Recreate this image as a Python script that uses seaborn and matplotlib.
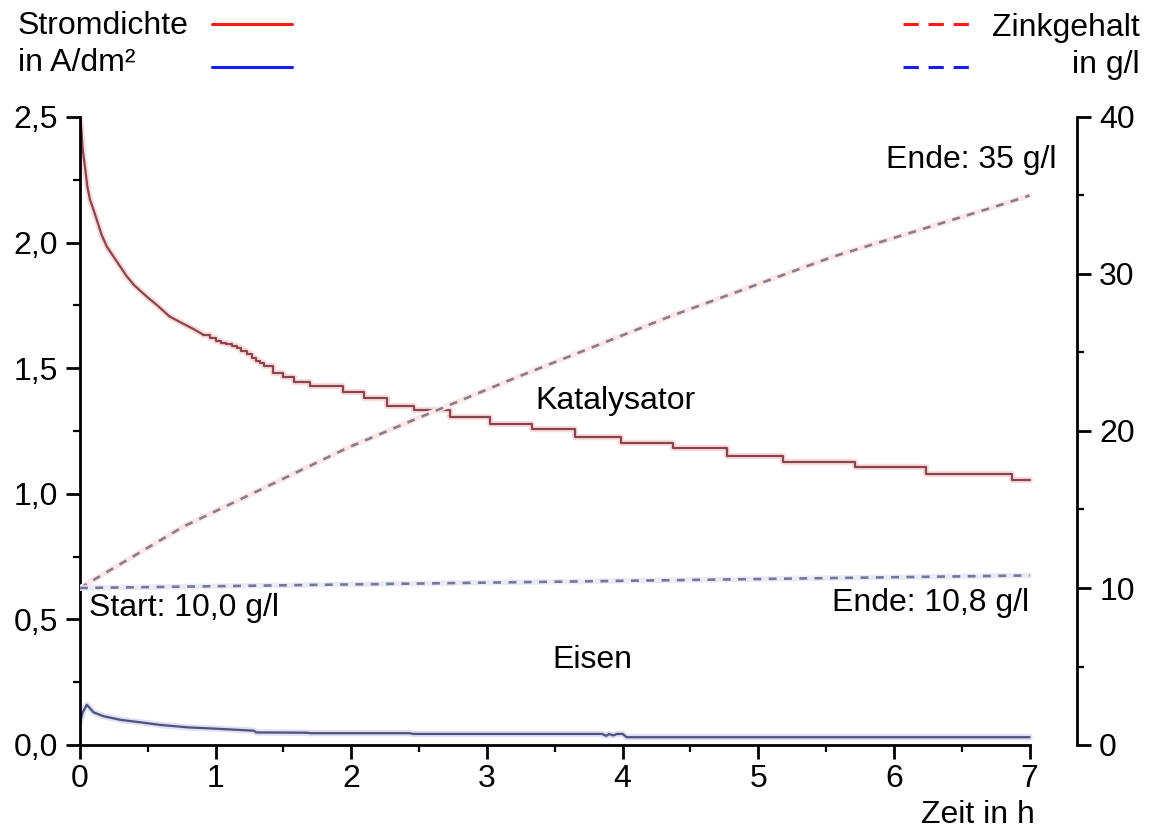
import matplotlib
matplotlib.use("Agg")
import matplotlib.pyplot as plt
from matplotlib.lines import Line2D
from matplotlib.ticker import MultipleLocator, FixedLocator, FixedFormatter
import seaborn as sns
import pandas as pd

# Stromdichte Katalysator (A/dm2): Anfang glatt, danach stufenfoermig
t_kat_a = [0, 0.01, 0.02, 0.037, 0.055, 0.074, 0.1, 0.13, 0.16, 0.197, 0.24, 0.29,
           0.344, 0.4, 0.49, 0.57, 0.66, 0.75, 0.84, 0.91]
i_kat_a = [2.5, 2.45, 2.37, 2.3, 2.22, 2.17, 2.13, 2.08, 2.03, 1.985, 1.95, 1.91,
           1.866, 1.83, 1.786, 1.75, 1.706, 1.68, 1.655, 1.633]
t_kat_b = [0.91, 0.96, 1.0, 1.04, 1.08, 1.12, 1.155, 1.19, 1.23, 1.27, 1.3, 1.33, 1.36,
           1.42, 1.5, 1.58, 1.695, 1.94, 2.09, 2.26, 2.46, 2.73, 3.02,
           3.33, 3.65, 3.99, 4.37, 4.77, 5.18, 5.71, 6.24, 6.87, 7.0]
i_kat_b = [1.633, 1.62, 1.61, 1.6, 1.595, 1.588, 1.58, 1.568, 1.555, 1.54, 1.53, 1.52, 1.51,
           1.48, 1.465, 1.445, 1.428, 1.407, 1.381, 1.35, 1.332, 1.305, 1.279,
           1.258, 1.228, 1.202, 1.182, 1.151, 1.126, 1.105, 1.078, 1.053, 1.053]

# Stromdichte Eisen (A/dm2)
t_fe = [0, 0.02, 0.05, 0.1, 0.17, 0.3, 0.45, 0.59, 0.8, 1.0, 1.28, 1.3, 1.67, 1.7,
        2.43, 2.46, 3.85, 3.88, 3.9, 3.93, 3.96, 4.0, 4.03, 7.0]
i_fe = [0.09, 0.13, 0.16, 0.13, 0.115, 0.1, 0.09, 0.08, 0.07, 0.065, 0.057, 0.05, 0.049, 0.047,
        0.047, 0.044, 0.044, 0.036, 0.044, 0.038, 0.044, 0.044, 0.031, 0.031]

# Zinkgehalt (g/l)
t_zn_kat = [0, 0.76, 1.375, 1.965, 2.43, 3.17, 4.35, 5.55, 6.75, 7.0]
zn_kat = [10.0, 13.9, 16.45, 18.9, 20.6, 23.25, 27.3, 31.1, 34.3, 35.0]
t_zn_fe = [0, 7.0]
zn_fe = [10.0, 10.8]

x_ticks = [0, 1, 2, 3, 4, 5, 6, 7]
y_ticks = [0, 0.5, 1.0, 1.5, 2.0, 2.5]
y_labels = ['0,0', '0,5', '1,0', '1,5', '2,0', '2,5']
y2_ticks = [0, 10, 20, 30, 40]

sns.set_style('white')
plt.rcParams['font.family'] = ['Liberation Sans', 'DejaVu Sans']
plt.rcParams['text.color'] = 'black'
plt.rcParams['xtick.color'] = 'black'
plt.rcParams['ytick.color'] = 'black'
plt.rcParams['xtick.labelcolor'] = 'black'
plt.rcParams['ytick.labelcolor'] = 'black'
fs = 23

fig = plt.figure(figsize=(11.62, 8.31), dpi=100)
ax = fig.add_axes([80 / 1162, 86 / 831, 997 / 1162, 628 / 831])
ax2 = ax.twinx()

df_kat_a = pd.DataFrame({'t': t_kat_a, 'i': i_kat_a})
df_kat_b = pd.DataFrame({'t': t_kat_b, 'i': i_kat_b})
df_fe = pd.DataFrame({'t': t_fe, 'i': i_fe})
df_znk = pd.DataFrame({'t': t_zn_kat, 'zn': zn_kat})
df_znf = pd.DataFrame({'t': t_zn_fe, 'zn': zn_fe})

red_halo, red_core = '#f8dcdc', '#8a4650'
blue_halo, blue_core = '#dedef5', '#50507a'

# Schein + Linie
for d, ds in [(df_kat_a, 'default'), (df_kat_b, 'steps-post')]:
    sns.lineplot(data=d, x='t', y='i', ax=ax, color=red_halo, lw=4.5, drawstyle=ds, sort=False)
for d, ds in [(df_kat_a, 'default'), (df_kat_b, 'steps-post')]:
    sns.lineplot(data=d, x='t', y='i', ax=ax, color=red_core, lw=1.6, drawstyle=ds, sort=False)
sns.lineplot(data=df_fe, x='t', y='i', ax=ax, color=blue_halo, lw=4.5, sort=False)
sns.lineplot(data=df_fe, x='t', y='i', ax=ax, color=blue_core, lw=1.6, sort=False)

sns.lineplot(data=df_znk, x='t', y='zn', ax=ax2, color='#fbe8ea', lw=4, sort=False)
sns.lineplot(data=df_znk, x='t', y='zn', ax=ax2, color='#8c7c86', lw=1.9, linestyle=(0, (3, 2.8)), sort=False)
sns.lineplot(data=df_znf, x='t', y='zn', ax=ax2, color='#ebebf7', lw=4, sort=False)
sns.lineplot(data=df_znf, x='t', y='zn', ax=ax2, color='#76769a', lw=1.9, linestyle=(0, (3, 2.8)), sort=False)

ax.set_xlim(0, 7.35)
ax.set_ylim(0, 2.5)
ax2.set_ylim(0, 40)
ax.set_xlabel('')
ax.set_ylabel('')
ax2.set_ylabel('')

for s in ['top', 'right']:
    ax.spines[s].set_visible(False)
for s in ['top', 'left', 'bottom']:
    ax2.spines[s].set_visible(False)
ax.spines['bottom'].set_bounds(0, 7)
for sp in [ax.spines['left'], ax.spines['bottom'], ax2.spines['right']]:
    sp.set_linewidth(2)
    sp.set_color('black')

ax.xaxis.set_major_locator(FixedLocator(x_ticks))
ax.xaxis.set_minor_locator(FixedLocator([0.5, 1.5, 2.5, 3.5, 4.5, 5.5, 6.5]))
ax.yaxis.set_major_locator(FixedLocator(y_ticks))
ax.yaxis.set_major_formatter(FixedFormatter(y_labels))
ax.yaxis.set_minor_locator(MultipleLocator(0.25))
ax2.yaxis.set_major_locator(FixedLocator(y2_ticks))
ax2.yaxis.set_minor_locator(MultipleLocator(5))

for a in [ax, ax2]:
    a.tick_params(which='major', direction='out', length=10, width=2, labelsize=fs, pad=6,
                  color='black', labelcolor='black')
    a.tick_params(which='minor', direction='out', length=5, width=1.6, color='black')
ax.tick_params(axis='x', which='major', pad=4)
ax.tick_params(axis='y', which='both', left=True)
ax.tick_params(axis='x', which='both', bottom=True)
ax2.tick_params(axis='y', which='both', right=True)

box = dict(facecolor='white', edgecolor='none', pad=1)
ax.text(3.36, 1.37, 'Katalysator', fontsize=fs, ha='left', va='center', bbox=box)
ax.text(3.48, 0.34, 'Eisen', fontsize=fs, ha='left', va='center', bbox=box)
ax.text(0.07, 0.546, 'Start: 10,0 g/l', fontsize=fs, ha='left', va='center', bbox=box)
ax.text(7.0, 0.566, 'Ende: 10,8 g/l', fontsize=fs, ha='right', va='center', bbox=box)
ax.text(7.2, 2.33, 'Ende: 35 g/l', fontsize=fs, ha='right', va='center', bbox=box)

fig.text(1035 / 1162, 1 - 815 / 831, 'Zeit in h', fontsize=fs, ha='right', va='center')

# Legende
fig.text(18 / 1162, 1 - 26 / 831, 'Stromdichte', fontsize=fs, ha='left', va='center')
fig.text(18 / 1162, 1 - 63 / 831, 'in A/dm²', fontsize=fs, ha='left', va='center')
fig.text(1140 / 1162, 1 - 28 / 831, 'Zinkgehalt', fontsize=fs, ha='right', va='center')
fig.text(1140 / 1162, 1 - 65 / 831, 'in g/l', fontsize=fs, ha='right', va='center')
fig.add_artist(Line2D([212 / 1162, 292 / 1162], [1 - 24 / 831] * 2, color='#ff1a1a', lw=2.2, transform=fig.transFigure))
fig.add_artist(Line2D([212 / 1162, 292 / 1162], [1 - 67 / 831] * 2, color='#1a1aff', lw=2.2, transform=fig.transFigure))
fig.add_artist(Line2D([903 / 1162, 970 / 1162], [1 - 24 / 831] * 2, color='#ff1a1a', lw=2.2,
                      linestyle=(0, (5, 3.2)), transform=fig.transFigure))
fig.add_artist(Line2D([903 / 1162, 970 / 1162], [1 - 67 / 831] * 2, color='#1a1aff', lw=2.2,
                      linestyle=(0, (5, 3.2)), transform=fig.transFigure))

fig.savefig('out.png', dpi=100, facecolor='white')
